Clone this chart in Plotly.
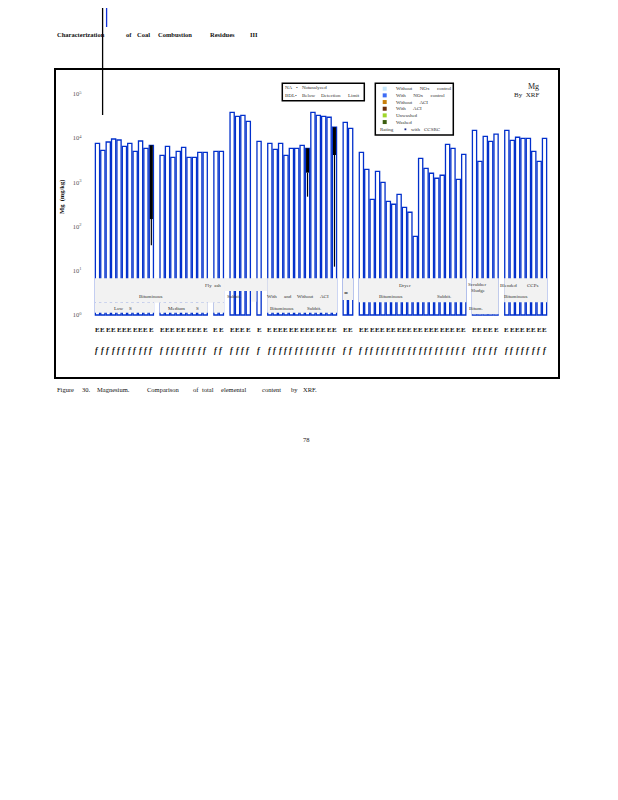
import plotly.graph_objects as go

# ---------------- data ----------------
group_names = ["Bit. Low S", "Bit. Medium S", "Bit. other", "Subbit.", "Lignite",
               "With/Without ACI", "Other", "Dryer", "Scrubber Sludge", "Blended CCPs"]
low_s = [7670, 5320, 8200, 9600, 9100, 6560, 7670, 5050, 8650, 5910, 6910]
medium_s = [4100, 6560, 3700, 5050, 6220, 3700, 3700, 4800, 4800]
bit_other = [5050, 5050]
subbit = [38500, 31300, 33000, 24100]
lignite = [8510]
aci = [7670, 5610, 7670, 4100, 5910, 5910, 6910, 5910, 38500, 33000, 31300, 29800, 17700]
other = [22900, 16700]
dryer = [4800, 1980, 415, 1780, 1005, 373, 320, 538, 273, 211, 60,
         3510, 2080, 1610, 1240, 1450, 7280, 5910, 1175, 4320]
sludge = [15100, 3000, 11000, 8510, 12300]
blended = [15100, 8960, 10500, 9950, 9950, 5050, 3000, 9950]
group_values = [low_s, medium_s, bit_other, subbit, lignite, aci, other, dryer, sludge, blended]

# range markers (group, 1-based position in group, high, mid, low)
rng_group = ["Bit. Low S", "With/Without ACI", "With/Without ACI"]
rng_pos = [11, 8, 13]
rng_high = [6910, 5910, 17700]
rng_mid = [148, 1660, 4170]
rng_low = [38, 475, 12.4]

tick_exps = [0, 1, 2, 3, 4, 5]

# ---------------- build categories ----------------
cats, vals, group_slots = [], [], []
for gi, (name, vs) in enumerate(zip(group_names, group_values)):
    if gi > 0:
        cats.append(f"gap{gi}")
        vals.append(None)
    slots = []
    for j, v in enumerate(vs):
        cats.append(f"{name} #{j+1}")
        vals.append(v)
        slots.append(len(cats) - 1)
    group_slots.append(slots)

# ---------------- geometry (page has an 8px body margin) ----------------
OFF = 8
W, H = 618 - OFF, 800 - OFF
PL, PR, PT, PB = 56, 558, 70, 377          # plot frame in page pixels
ML, MT = PL - OFF, PT - OFF
MR, MB = W - (PR - OFF), H - (PB - OFF)
PW, PH = PR - PL, PB - PT
YMIN, YMAX = -1.403, 5.543
BLUE = "#0230cc"
SERIF = "Liberation Serif"


def px(x):
    return (x - PL) / PW


def py(y):
    return (PB - y) / PH


fig = go.Figure()

fig.add_trace(go.Bar(
    x=cats, y=[(v - 1) if v else None for v in vals], base=1,
    width=0.78,
    marker=dict(color="white", line=dict(color=BLUE, width=1.3)),
    hoverinfo="skip", showlegend=False))

# range markers
xs_thick, ys_thick, xs_thin, ys_thin = [], [], [], []
for g, p, hi, mid, lo in zip(rng_group, rng_pos, rng_high, rng_mid, rng_low):
    c = f"{g} #{p}"
    xs_thick += [c, c, None]
    ys_thick += [hi, mid, None]
    xs_thin += [c, c, None]
    ys_thin += [mid, lo, None]
fig.add_trace(go.Scatter(x=xs_thick, y=ys_thick, mode="lines",
                         line=dict(color="black", width=3.0), showlegend=False, hoverinfo="skip"))
fig.add_trace(go.Scatter(x=xs_thin, y=ys_thin, mode="lines",
                         line=dict(color="black", width=1.2), showlegend=False, hoverinfo="skip"))

shapes = []
annots = []


def band(x0, x1, ytop, ybot):
    shapes.append(dict(type="rect", xref="x", yref="paper", x0=x0, x1=x1,
                       y0=py(ybot), y1=py(ytop), fillcolor="#f2f2f2",
                       line=dict(width=0), layer="above"))


gs = group_slots
band(gs[0][0] - 0.5, gs[2][-1] + 0.5, 278.3, 302.7)
band(gs[0][0] - 0.5, gs[0][-1] + 0.5, 302.7, 312.7)
band(gs[1][0] - 0.5, gs[1][-1] + 0.5, 302.7, 312.7)
band(gs[2][0] - 0.5, gs[2][-1] + 0.5, 302.7, 312.7)
band(gs[2][-1] + 0.5, gs[5][0] - 0.5, 278.3, 291)
band(gs[3][-1] + 0.5, gs[4][0] - 0.5, 291, 301.7)
band(gs[5][0] - 0.5, gs[5][-1] + 0.5, 278.3, 312.7)
band(gs[6][0] - 0.5, gs[6][-1] + 0.5, 278.3, 300)
band(gs[7][0] - 0.5, gs[7][-1] + 0.5, 278.3, 302.3)
band(gs[8][0] - 0.5, gs[8][-1] + 0.5, 278.3, 314.3)
band(gs[9][0] - 0.5, gs[9][-1] + 0.5, 278.3, 302.3)


def txt(x, y, s, size=5, anchor="left", bold=False, color="#333", font=SERIF, angle=0):
    if bold:
        s = f"<b>{s}</b>"
    annots.append(dict(xref="paper", yref="paper", x=px(x), y=py(y), text=s,
                       showarrow=False, xanchor=anchor, yanchor="middle",
                       textangle=angle, borderpad=0,
                       font=dict(family=font, size=size, color=color)))


# band labels
txt(213, 285, "Fly  ash", 5, "center")
txt(150, 296, "Bituminous", 5, "center")
txt(234, 296, "Subbit.", 5, "center")
txt(119, 308, "Low", 5, "center")
txt(130, 308, "S", 5, "center")
txt(176, 308, "Medium", 5, "center")
txt(197, 308, "S", 5, "center")
txt(272, 296, "With", 5, "center")
txt(288, 296, "and", 5, "center")
txt(305, 296, "Without", 5, "center")
txt(324, 296, "ACI", 5, "center")
txt(281, 308, "Bituminous", 5, "center")
txt(314, 308, "Subbit.", 5, "center")
txt(346, 293, "=", 7, "center", bold=True, color="#111")
txt(405, 285, "Dryer", 5, "center")
txt(390, 296, "Bituminous", 5, "center")
txt(444, 296, "Subbit.", 5, "center")
txt(477, 284, "Scrubber", 5, "center")
txt(478, 290, "Sludge", 5, "center")
txt(476, 308, "Bitum.", 5, "center")
txt(508, 285, "Blended", 5, "center")
txt(532, 285, "CCPs", 5, "center")
txt(515, 296, "Bituminous", 5, "center")

# sample labels below bars
for gi, slots in enumerate(group_slots):
    for s in slots:
        annots.append(dict(xref="x", yref="paper", x=cats[s], y=py(330), text="<b>E</b>",
                           showarrow=False, yanchor="middle", borderpad=0,
                           font=dict(family=SERIF, size=7, color="#111")))
        annots.append(dict(xref="x", yref="paper", x=cats[s], y=py(350), text="<b><i>f</i></b>",
                           showarrow=False, yanchor="middle", borderpad=0,
                           font=dict(family=SERIF, size=8, color="#111")))

# y-axis title
txt(62, 197, "Mg  (mg/kg)", 6.5, "center", bold=True, color="#111", angle=-90)

# legend boxes
shapes.append(dict(type="rect", xref="paper", yref="paper", x0=px(282.3), x1=px(364.3),
                   y0=py(100.7), y1=py(83.3), line=dict(color="black", width=1.5), fillcolor="white"))
shapes.append(dict(type="rect", xref="paper", yref="paper", x0=px(375.3), x1=px(453.3),
                   y0=py(135), y1=py(83.3), line=dict(color="black", width=1.5), fillcolor="white"))
txt(284, 87, "NA", 5)
txt(295, 87, "•", 5)
txt(300.7, 87, "Not", 5)
txt(308.3, 87, "analyzed", 5)
txt(284, 95, "BDL•", 5)
txt(300.7, 95, "Below", 5)
txt(320, 95, "Detection", 5)
txt(347.3, 95, "Limit", 5)

leg_colors = ["#c5e6fa", "#3d6cf5", "#c87f0a", "#6b2d0a", "#9fd62a", "#3b5e0f"]
leg_labels = ["Without      NOx      control", "With      NOx      control", "Without      ACI",
              "With      ACI", "Unwashed", "Washed"]
for i, (c, lab) in enumerate(zip(leg_colors, leg_labels)):
    yc = 88.7 + 6.67 * i
    shapes.append(dict(type="rect", xref="paper", yref="paper", x0=px(382.7), x1=px(386.7),
                       y0=py(yc + 2), y1=py(yc - 2), fillcolor=c, line=dict(width=0)))
    txt(395, yc, lab, 5)
txt(379.3, 129.3, "Rating", 5)
shapes.append(dict(type="rect", xref="paper", yref="paper", x0=px(404.5), x1=px(406.3),
                   y0=py(130.2), y1=py(128.4), fillcolor="#1a2a8a", line=dict(width=0)))
txt(410, 129.3, "with", 5)
txt(423, 129.3, "CCSRC", 5)

txt(540, 86, "Mg", 8, "right", color="#222")
txt(540, 95, "By  XRF", 7, "right", color="#222")

# header words
for x, w in [(56, "Characterization"), (125, "of"), (136, "Coal"), (157, "Combustion"),
             (209, "Residues"), (249, "III")]:
    txt(x, 35, w, 6.5, "left", bold=True, color="#111")

# caption words
for x, w in [(56, "Figure"), (81, "30."), (96, "Magnesium."), (146, "Comparison"),
             (192, "of"), (201, "total"), (220, "elemental"), (261, "content"),
             (290, "by"), (302, "XRF.")]:
    txt(x, 389, w, 6.5, "left", color="#111")

txt(306, 439, "78", 6.5, "center", color="#111")

# stray page marks
shapes.append(dict(type="line", xref="paper", yref="paper", x0=px(102.6), x1=px(102.6),
                   y0=py(OFF), y1=py(115), line=dict(color="black", width=1.3)))
shapes.append(dict(type="line", xref="paper", yref="paper", x0=px(106.6), x1=px(106.6),
                   y0=py(OFF), y1=py(27), line=dict(color="#1030d8", width=1.3)))

fig.update_layout(
    width=W, height=H,
    margin=dict(l=ML, r=MR, t=MT, b=MB, autoexpand=False),
    paper_bgcolor="white", plot_bgcolor="white",
    showlegend=False, bargap=0.18,
    shapes=shapes, annotations=annots,
    font=dict(family=SERIF),
)
fig.update_xaxes(type="category", categoryorder="array", categoryarray=cats,
                 range=[-7.70, len(cats) - 1 + 2.0 + 0.5], showticklabels=False, ticks="",
                 showgrid=False, zeroline=False, showline=True, mirror=True,
                 linecolor="black", linewidth=2)
fig.update_yaxes(type="log", range=[YMIN, YMAX],
                 tickvals=[10 ** e for e in tick_exps],
                 ticktext=[f"10<sup>{e}</sup>" for e in tick_exps],
                 ticklabelposition="inside", ticklabelstandoff=15, ticks="",
                 tickfont=dict(family=SERIF, size=6.5, color="#555"),
                 showgrid=False, zeroline=False, showline=True, mirror=True,
                 linecolor="black", linewidth=2)

fig.write_html("out.html")
